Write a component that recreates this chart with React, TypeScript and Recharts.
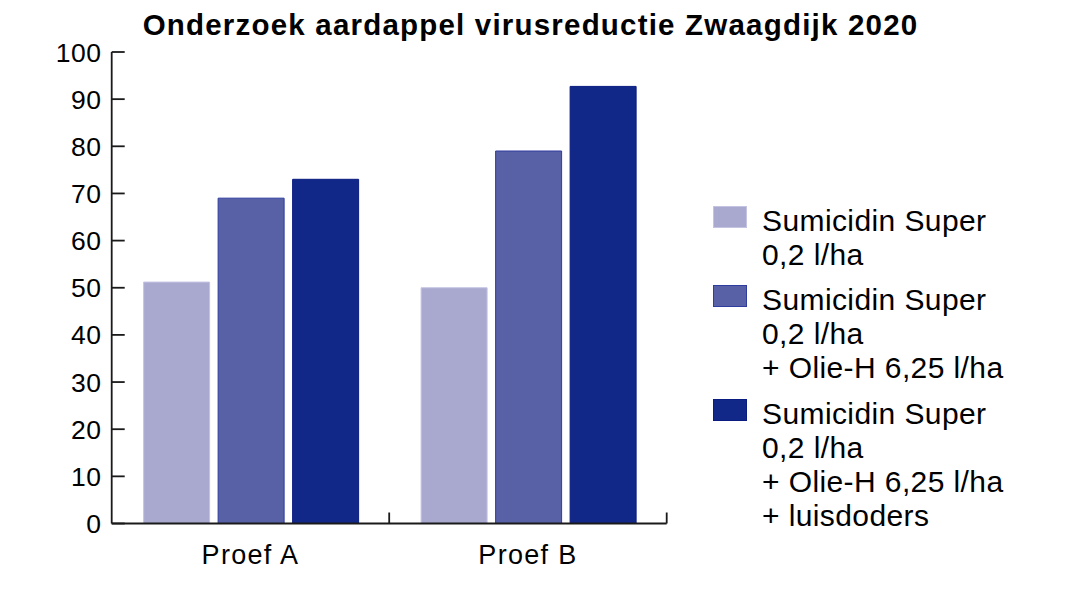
import { BarChart, Bar, XAxis, YAxis, Legend } from "recharts";

const categories = ["Proef A", "Proef B"];
const sumicidin = [51.2, 50];
const sumicidinOlie = [69, 79];
const sumicidinOlieLuis = [73, 92.7];
const yTicks = [0, 10, 20, 30, 40, 50, 60, 70, 80, 90, 100];

const seriesNames = [
  "Sumicidin Super\n0,2 l/ha",
  "Sumicidin Super\n0,2 l/ha\n+ Olie-H 6,25 l/ha",
  "Sumicidin Super\n0,2 l/ha\n+ Olie-H 6,25 l/ha\n+ luisdoders",
];
const fills = ["#a9a8cf", "#5860a6", "#122888"];
const strokes = ["#c4c3e2", "#2e3d9e", "#0a1c80"];

const data = categories.map((name, i) => ({
  name,
  s1: sumicidin[i],
  s2: sumicidinOlie[i],
  s3: sumicidinOlieLuis[i],
}));

const font = "'Liberation Sans', Arial, Helvetica, sans-serif";
const axisColor = "#1a1a1a";

const YTick = (props: any) => {
  const { x, y, payload } = props;
  return (
    <g>
      <line x1={x + 10} x2={x + 23} y1={y} y2={y} stroke={axisColor} strokeWidth={1.8} />
      <text
        x={x}
        y={y}
        dy="0.36em"
        textAnchor="end"
        fontSize={26.5}
        fill="#000"
        fontFamily={font}
        letterSpacing={0.6}
      >
        {payload.value}
      </text>
    </g>
  );
};

const XTick = (props: any) => {
  const { x, y, payload } = props;
  const axisY = y - 8;
  const edge = x + (payload.offset ?? 0);
  return (
    <g>
      <line x1={edge} x2={edge} y1={axisY} y2={axisY - 11} stroke={axisColor} strokeWidth={1.8} />
      <text
        x={x}
        y={axisY + 40}
        textAnchor="middle"
        fontSize={27}
        fill="#000"
        fontFamily={font}
        letterSpacing={1.3}
      >
        {payload.value}
      </text>
    </g>
  );
};

const LegendContent = (props: any) => {
  const items = props.payload || [];
  return (
    <div style={{ fontFamily: font, fontSize: 30, lineHeight: "34px", color: "#000" }}>
      {items.map((entry: any, i: number) => (
        <div key={i} style={{ display: "flex", marginBottom: 11.5 }}>
          <div
            style={{
              width: 34,
              height: 22,
              marginTop: 2.4,
              background: fills[i],
              border: `1px solid ${strokes[i]}`,
              boxSizing: "border-box",
              flex: "none",
            }}
          />
          <div style={{ marginLeft: 15, whiteSpace: "pre-line", letterSpacing: 0.4 }}>{entry.value}</div>
        </div>
      ))}
    </div>
  );
};

export default function App() {
  return (
    <div style={{ position: "absolute", left: 0, top: 0, width: 1070, height: 602, background: "#fff" }}>
      <div
        style={{
          position: "absolute",
          left: 0,
          top: 9,
          width: 1061,
          textAlign: "center",
          fontFamily: font,
          fontWeight: "bold",
          fontSize: 29.5,
          lineHeight: "32px",
          letterSpacing: 1.2,
          color: "#000",
          zIndex: 2,
        }}
      >
        Onderzoek aardappel virusreductie Zwaagdijk 2020
      </div>
      <BarChart
        width={1070}
        height={602}
        data={data}
        margin={{ top: 52, right: 403.3, bottom: 0, left: 0 }}
        barCategoryGap="11.5%"
        barGap={8.5}
      >
        <XAxis
          dataKey="name"
          height={78.5}
          tickLine={false}
          tickSize={0}
          tickMargin={8}
          axisLine={{ stroke: axisColor, strokeWidth: 1.8 }}
          tick={<XTick />}
          interval={0}
        />
        <YAxis
          width={111.7}
          domain={[0, 100]}
          ticks={yTicks}
          interval={0}
          tickLine={false}
          tickSize={0}
          tickMargin={10}
          axisLine={{ stroke: axisColor, strokeWidth: 1.8 }}
          tick={<YTick />}
        />
        <Legend
          layout="vertical"
          align="center"
          verticalAlign="middle"
          content={<LegendContent />}
          wrapperStyle={{ left: 713, top: 203.6, width: 340 }}
        />
        <Bar dataKey="s1" name={seriesNames[0]} fill={fills[0]} stroke={strokes[0]} strokeWidth={1} isAnimationActive={false} />
        <Bar dataKey="s2" name={seriesNames[1]} fill={fills[1]} stroke={strokes[1]} strokeWidth={1} isAnimationActive={false} />
        <Bar dataKey="s3" name={seriesNames[2]} fill={fills[2]} stroke={strokes[2]} strokeWidth={1} isAnimationActive={false} />
      </BarChart>
    </div>
  );
}
